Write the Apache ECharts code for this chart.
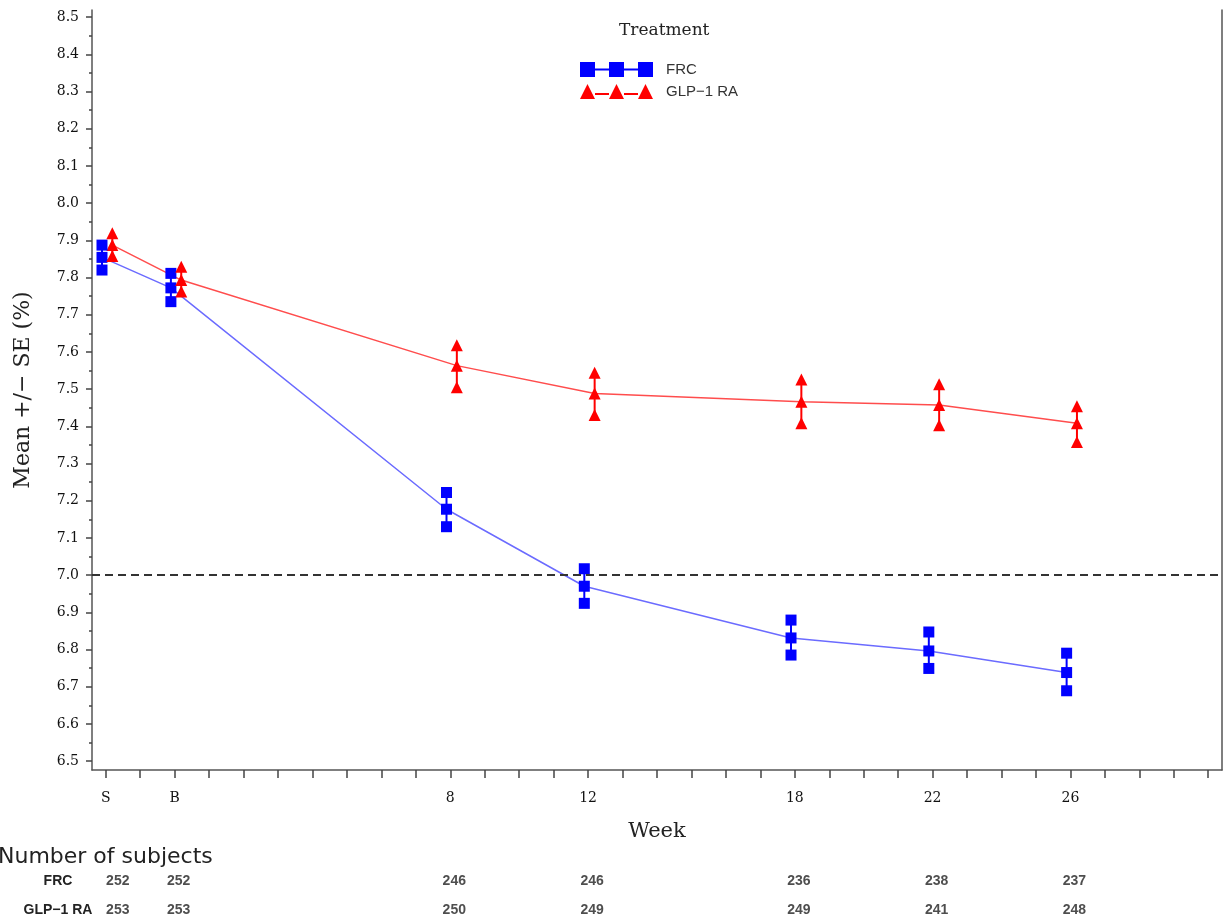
<!DOCTYPE html>
<html><head><meta charset="utf-8">
<script src="https://cdn.jsdelivr.net/npm/echarts@6/dist/echarts.min.js"></script>
<style>html,body{margin:0;padding:0;background:#fff}#c{width:1225px;height:918px}</style>
</head><body><div id="c"></div>
<script>
// ---- data ----
const weeks = [-2, 0, 8, 12, 18, 22, 26];
const weekLabels = ['S', 'B', '8', '12', '18', '22', '26'];
const weekTicks = [-2,-1,0,1,2,3,4,5,6,7,8,9,10,11,12,13,14,15,16,17,18,19,20,21,22,23,24,25,26,27,28,29,30];
const yTicks = [6.5,6.6,6.7,6.8,6.9,7.0,7.1,7.2,7.3,7.4,7.5,7.6,7.7,7.8,7.9,8.0,8.1,8.2,8.3,8.4,8.5];
const frcMean  = [7.854, 7.772, 7.177, 6.970, 6.831, 6.796, 6.738];
const frcUpper = [7.887, 7.811, 7.222, 7.017, 6.879, 6.847, 6.790];
const frcLower = [7.820, 7.735, 7.130, 6.924, 6.785, 6.749, 6.689];
const glpMean  = [7.887, 7.793, 7.563, 7.488, 7.466, 7.457, 7.408];
const glpUpper = [7.919, 7.829, 7.618, 7.544, 7.526, 7.513, 7.454];
const glpLower = [7.858, 7.762, 7.505, 7.430, 7.408, 7.403, 7.358];
const frcN = [252, 252, 246, 246, 236, 238, 237];
const glpN = [253, 253, 250, 249, 249, 241, 248];
const refLine = 7.0;
const names = ['FRC', 'GLP\u22121 RA'];

// ---- styles ----
const FRC_OFF = -0.11, GLP_OFF = 0.19;
const blue = '#0000ff', blueLine = '#6b6bff', red = '#ff0000', redLine = '#ff4d4d';
const yMinor = [];
for (let i = 0; i < yTicks.length - 1; i++) yMinor.push(+((yTicks[i] + yTicks[i+1]) / 2).toFixed(3));

const sqIcon = 'path://M0,0h15v15h-15z M15,6.5h14v2h-14z M29,0h15v15h-15z M44,6.5h14v2h-14z M58,0h15v15h-15z';
const triIcon = 'path://M0,15L7.5,0L15,15Z M15,9h14v2h-14z M29,15L36.5,0L44,15Z M44,9h14v2h-14z M58,15L65.5,0L73,15Z';

function errBar(color) {
  return function (params, api) {
    const x = api.value(0);
    const p1 = api.coord([x, api.value(1)]);
    const p2 = api.coord([x, api.value(2)]);
    return { type: 'line', shape: { x1: p1[0], y1: p1[1], x2: p2[0], y2: p2[1] },
             style: { stroke: color, lineWidth: 2 } };
  };
}

const tickFont = { fontFamily: 'DejaVu Serif', fontSize: 14, color: '#111' };
const yRange = { min: 6.476, max: 8.519 };

const option = {
  animation: false,
  backgroundColor: '#fff',
  title: [
    { text: 'Treatment', left: 614, top: 17,
      textStyle: { fontFamily: 'DejaVu Serif', fontSize: 17, fontWeight: 'normal', color: '#222' } },
    { text: 'Number of subjects', left: -7, top: 841,
      textStyle: { fontFamily: 'DejaVu Sans', fontSize: 22, fontWeight: 'normal', color: '#222' } }
  ],
  legend: {
    orient: 'vertical', left: 575, top: 57, itemGap: 7, itemWidth: 73, itemHeight: 15,
    data: [{ name: names[0], icon: sqIcon }, { name: names[1], icon: triIcon }],
    textStyle: { fontFamily: 'Liberation Sans', fontSize: 15, color: '#333', padding: [0, 0, 0, 8] }
  },
  grid: [
    { left: 92, right: 3, top: 10, bottom: 148 },
    { left: 92, right: 3, top: 881, bottom: 8 }
  ],
  xAxis: [
    { type: 'value', gridIndex: 0, min: -2.4, max: 30.4,
      axisLine: { show: true, onZero: false, lineStyle: { color: '#555', width: 1.5 } },
      axisTick: { show: true, customValues: weekTicks, length: 8, lineStyle: { color: '#444', width: 1.5 } },
      axisLabel: { customValues: weeks, margin: 21, ...tickFont,
        formatter: v => { const i = weeks.indexOf(v); return i >= 0 ? weekLabels[i] : ''; } },
      splitLine: { show: false },
      name: 'Week', nameLocation: 'middle', nameGap: 51,
      nameTextStyle: { fontFamily: 'DejaVu Serif', fontSize: 21, color: '#222' } },
    { type: 'value', gridIndex: 1, min: -2.4, max: 30.4, show: false }
  ],
  yAxis: [
    { type: 'value', gridIndex: 0, ...yRange, position: 'left',
      axisLine: { show: true, onZero: false, lineStyle: { color: '#555', width: 1.5 } },
      axisTick: { show: true, customValues: yTicks, length: 6, lineStyle: { color: '#444', width: 1.5 } },
      axisLabel: { customValues: yTicks, margin: 13, ...tickFont, formatter: v => v.toFixed(1) },
      splitLine: { show: false },
      name: 'Mean +/\u2212 SE (%)', nameLocation: 'middle', nameGap: 58, nameRotate: 90,
      nameTextStyle: { fontFamily: 'DejaVu Serif', fontSize: 22, color: '#222' } },
    { type: 'value', gridIndex: 0, ...yRange, position: 'left',
      axisLine: { show: false, onZero: false }, axisLabel: { show: false }, splitLine: { show: false },
      axisTick: { show: true, customValues: yMinor, length: 3, lineStyle: { color: '#444', width: 1.5 } } },
    { type: 'value', gridIndex: 0, ...yRange, position: 'right',
      axisLine: { show: true, onZero: false, lineStyle: { color: '#555', width: 1.5 } },
      axisTick: { show: false }, axisLabel: { show: false }, splitLine: { show: false } },
    { type: 'category', gridIndex: 1, data: [names[1], names[0]], boundaryGap: false,
      axisLine: { show: false }, axisTick: { show: false }, splitLine: { show: false },
      axisLabel: { margin: 34, align: 'center', fontFamily: 'Liberation Sans',
        fontSize: 14, fontWeight: 'bold', color: '#222' } }
  ],
  series: [
    { name: names[0], type: 'line', xAxisIndex: 0, yAxisIndex: 0,
      data: weeks.map((w, i) => [w + FRC_OFF, frcMean[i]]),
      symbol: 'rect', symbolSize: 11, itemStyle: { color: blue },
      lineStyle: { color: blueLine, width: 1.5 }, z: 4,
      markLine: { silent: true, symbol: 'none', label: { show: false },
        lineStyle: { color: '#333', type: [8, 5], width: 2 }, data: [{ yAxis: refLine }] } },
    { name: names[1], type: 'line', xAxisIndex: 0, yAxisIndex: 0,
      data: weeks.map((w, i) => [w + GLP_OFF, glpMean[i]]),
      symbol: 'triangle', symbolSize: 12, itemStyle: { color: red },
      lineStyle: { color: redLine, width: 1.5 }, z: 4 },
    { name: names[0] + ' SE', type: 'custom', xAxisIndex: 0, yAxisIndex: 0,
      renderItem: errBar(blue), encode: { x: 0, y: [1, 2] }, z: 3,
      data: weeks.map((w, i) => [w + FRC_OFF, frcLower[i], frcUpper[i]]) },
    { name: names[1] + ' SE', type: 'custom', xAxisIndex: 0, yAxisIndex: 0,
      renderItem: errBar(red), encode: { x: 0, y: [1, 2] }, z: 3,
      data: weeks.map((w, i) => [w + GLP_OFF, glpLower[i], glpUpper[i]]) },
    { name: names[0] + ' ends', type: 'scatter', xAxisIndex: 0, yAxisIndex: 0,
      symbol: 'rect', symbolSize: 11, itemStyle: { color: blue, opacity: 1 }, z: 4,
      data: weeks.map((w, i) => [w + FRC_OFF, frcUpper[i]]).concat(weeks.map((w, i) => [w + FRC_OFF, frcLower[i]])) },
    { name: names[1] + ' ends', type: 'scatter', xAxisIndex: 0, yAxisIndex: 0,
      symbol: 'triangle', symbolSize: 12, itemStyle: { color: red, opacity: 1 }, z: 4,
      data: weeks.map((w, i) => [w + GLP_OFF, glpUpper[i]]).concat(weeks.map((w, i) => [w + GLP_OFF, glpLower[i]])) },
    { name: 'nFRC', type: 'scatter', xAxisIndex: 1, yAxisIndex: 3, symbolSize: 0, silent: true,
      data: weeks.map((w, i) => ({ value: [w, names[0], frcN[i]],
        label: { offset: [i === 0 ? 12 : 4, 0] } })),
      label: { show: true, position: 'inside', formatter: p => String(p.value[2]),
        fontFamily: 'Liberation Sans', fontSize: 14, fontWeight: 'bold', color: '#222' } },
    { name: 'nGLP', type: 'scatter', xAxisIndex: 1, yAxisIndex: 3, symbolSize: 0, silent: true,
      data: weeks.map((w, i) => ({ value: [w, names[1], glpN[i]],
        label: { offset: [i === 0 ? 12 : 4, 0] } })),
      label: { show: true, position: 'inside', formatter: p => String(p.value[2]),
        fontFamily: 'Liberation Sans', fontSize: 14, fontWeight: 'bold', color: '#222' } }
  ]
};
const chart = echarts.init(document.getElementById('c'), null, { renderer: 'canvas' });
chart.setOption(option);
</script></body></html>
